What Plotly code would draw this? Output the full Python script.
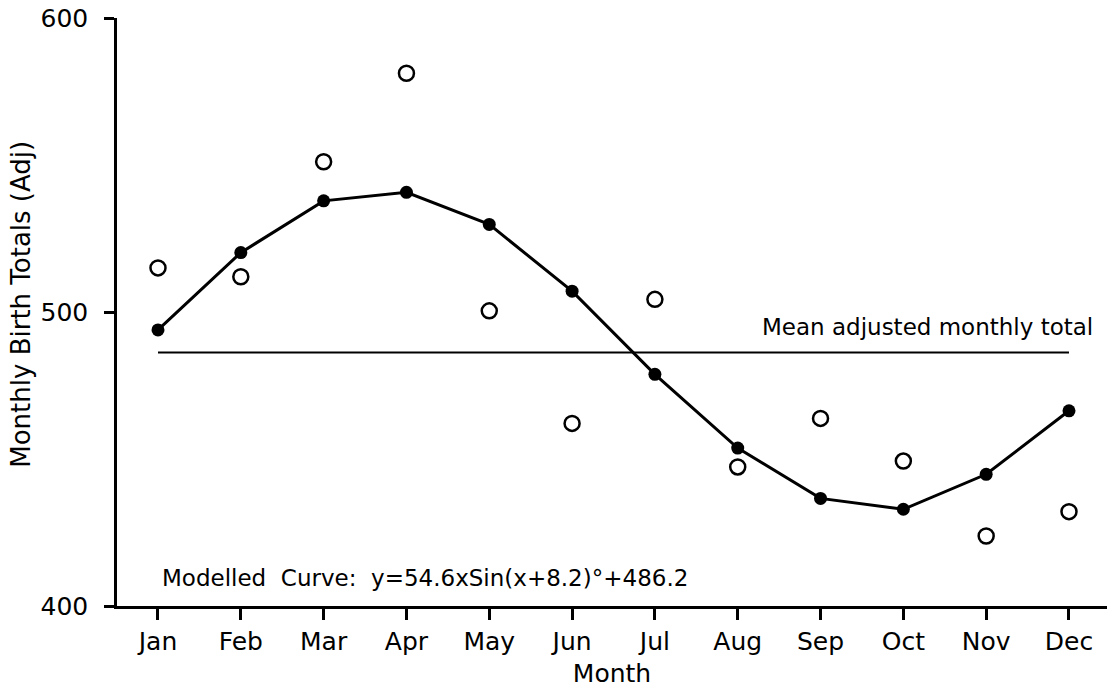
import plotly.graph_objects as go

months = ["Jan", "Feb", "Mar", "Apr", "May", "Jun", "Jul", "Aug", "Sep", "Oct", "Nov", "Dec"]
observed = [515.0, 512.0, 551.1, 581.2, 500.4, 462.1, 504.3, 447.3, 463.8, 449.3, 423.8, 432.1]
modelled = [493.9, 520.2, 537.8, 540.7, 529.8, 507.1, 478.8, 453.7, 436.6, 432.9, 444.8, 466.4]
mean_total = 486.2
y_ticks = [400, 500, 600]

x = list(range(1, 13))
FONT = "DejaVu Sans"

fig = go.Figure()
fig.add_trace(go.Scatter(
    x=[x[0], x[-1]], y=[mean_total, mean_total], mode="lines",
    line=dict(color="black", width=2), showlegend=False, hoverinfo="skip"))
fig.add_trace(go.Scatter(
    x=x, y=modelled, mode="lines+markers",
    line=dict(color="black", width=3),
    marker=dict(symbol="circle", size=13, color="black"),
    showlegend=False))
fig.add_trace(go.Scatter(
    x=x, y=observed, mode="markers",
    marker=dict(symbol="circle-open", size=15, color="black", line=dict(width=2.5, color="black")),
    showlegend=False))

fig.add_annotation(x=12.31, y=495, xref="x", yref="y", text="Mean adjusted monthly total",
                   showarrow=False, xanchor="right", yanchor="middle",
                   font=dict(family=FONT, size=23, color="black"))
fig.add_annotation(x=1.02, y=409.5, xref="x", yref="y", text="Modelled  Curve:  y=54.6xSin(x+8.2)°+486.2",
                   showarrow=False, xanchor="left", yanchor="middle",
                   font=dict(family=FONT, size=23, color="black"))
fig.add_annotation(x=-0.097, y=0.514, xref="paper", yref="paper", text="Monthly Birth Totals (Adj)",
                   showarrow=False, xanchor="center", yanchor="middle", textangle=-90,
                   font=dict(family=FONT, size=26, color="black"))

fig.update_layout(
    width=1107, height=688,
    margin=dict(l=117, r=0, t=18, b=82),
    paper_bgcolor="white", plot_bgcolor="white",
    font=dict(family=FONT, color="black"),
    xaxis=dict(
        range=[0.505, 12.459], tickmode="array", tickvals=x, ticktext=months,
        showgrid=False, zeroline=False, showline=True, linecolor="black", linewidth=2.5,
        ticks="outside", ticklen=11, tickwidth=2.5, tickcolor="black",
        tickfont=dict(family=FONT, size=25), ticklabelstandoff=0,
        title=dict(text="Month", font=dict(family=FONT, size=25), standoff=10),
    ),
    yaxis=dict(
        range=[400, 600], tickmode="array", tickvals=y_ticks,
        showgrid=False, zeroline=False, showline=True, linecolor="black", linewidth=2.5,
        ticks="outside", ticklen=10, tickwidth=2.5, tickcolor="black",
        tickfont=dict(family=FONT, size=25), ticklabelstandoff=11,
    ),
)

fig.write_html("out.html", config={"displayModeBar": False},
               post_script="document.body.style.margin='0';document.body.style.overflow='hidden';")
